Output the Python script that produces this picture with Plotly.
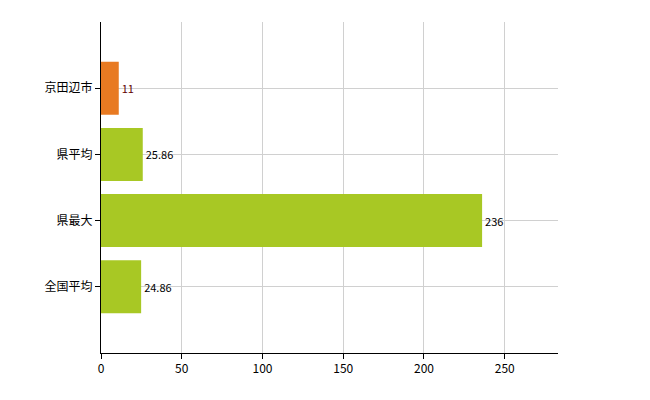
import plotly.graph_objects as go

categories = ["全国平均", "県最大", "県平均", "京田辺市"]
values = [24.86, 236, 25.86, 11]
labels = ["24.86", "236", "25.86", "11"]
colors = ["#A8C824", "#A8C824", "#A8C824", "#E87A22"]
text_colors = ["#000000", "#000000", "#000000", "#600000"]

fig = go.Figure(go.Bar(
    y=list(range(len(categories))), x=values, orientation="h",
    marker=dict(color=colors, line=dict(width=0)), width=0.8,
    text=labels, textposition="outside", cliponaxis=False,
    textfont=dict(size=11, color=text_colors, family="Noto Sans CJK JP"),
))
fig.update_layout(
    width=650, height=400, plot_bgcolor="white", paper_bgcolor="white",
    margin=dict(l=93, r=100, t=14, b=55), showlegend=False,
    font=dict(family="Noto Sans CJK JP", size=12, color="black"),
)
fig.update_xaxes(range=[0, 283], tickvals=[0, 50, 100, 150, 200, 250],
                 showline=True, linecolor="black", ticks="outside", ticklen=5,
                 tickcolor="black", showgrid=True, gridcolor="#D0D0D0", zeroline=False,
                 mirror=False)
fig.update_yaxes(range=[-1, 4], tickvals=list(range(len(categories))), ticktext=categories,
                 showline=True, linecolor="black", ticks="outside", ticklen=5,
                 tickcolor="black", showgrid=True, gridcolor="#D0D0D0", zeroline=False)
fig.write_html("out.html")
